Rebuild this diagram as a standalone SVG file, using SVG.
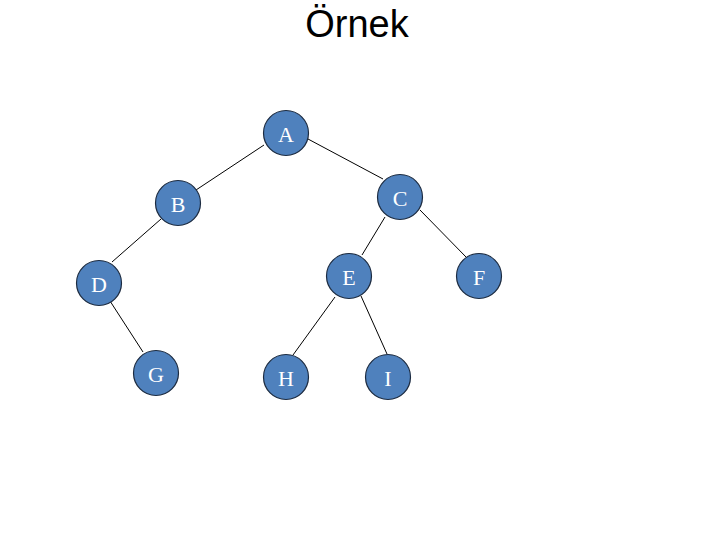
<svg xmlns="http://www.w3.org/2000/svg" width="720" height="540" viewBox="0 0 720 540">
<style>
.node circle{fill:#4f81bd;stroke:#1c2b40;stroke-width:1.2}
.node text{font-family:"Liberation Serif",serif;font-size:22px;fill:#ffffff;text-anchor:middle;dominant-baseline:central}
.edges line{stroke:#000;stroke-width:1}
.title{font-family:"Liberation Sans",sans-serif;font-size:38px;fill:#000;text-anchor:middle}
</style>
<rect width="720" height="540" fill="#fff"/>
<text class="title" x="357" y="37">Örnek</text>
<g id="edges" class="edges">
<line x1="264" y1="145" x2="196" y2="190"/>
<line x1="308" y1="139" x2="383" y2="179"/>
<line x1="161" y1="219" x2="112" y2="262"/>
<line x1="385" y1="217" x2="362" y2="255"/>
<line x1="420" y1="210" x2="467" y2="258"/>
<line x1="110" y1="301" x2="143" y2="352"/>
<line x1="335" y1="297" x2="293" y2="355"/>
<line x1="361" y1="296" x2="387" y2="354"/>
</g>
<g id="node-A" class="node"><circle cx="286" cy="133" r="22.5"/><text x="286" y="134">A</text></g>
<g id="node-B" class="node"><circle cx="178" cy="203" r="22.5"/><text x="178" y="204">B</text></g>
<g id="node-C" class="node"><circle cx="400" cy="197" r="22.5"/><text x="400" y="198">C</text></g>
<g id="node-D" class="node"><circle cx="99" cy="283" r="22.5"/><text x="99" y="284">D</text></g>
<g id="node-E" class="node"><circle cx="349" cy="276" r="22.5"/><text x="349" y="277">E</text></g>
<g id="node-F" class="node"><circle cx="479" cy="276" r="22.5"/><text x="479" y="277">F</text></g>
<g id="node-G" class="node"><circle cx="156" cy="373" r="22.5"/><text x="156" y="374">G</text></g>
<g id="node-H" class="node"><circle cx="286" cy="377" r="22.5"/><text x="286" y="378">H</text></g>
<g id="node-I" class="node"><circle cx="388" cy="377" r="22.5"/><text x="388" y="378">I</text></g>
</svg>
